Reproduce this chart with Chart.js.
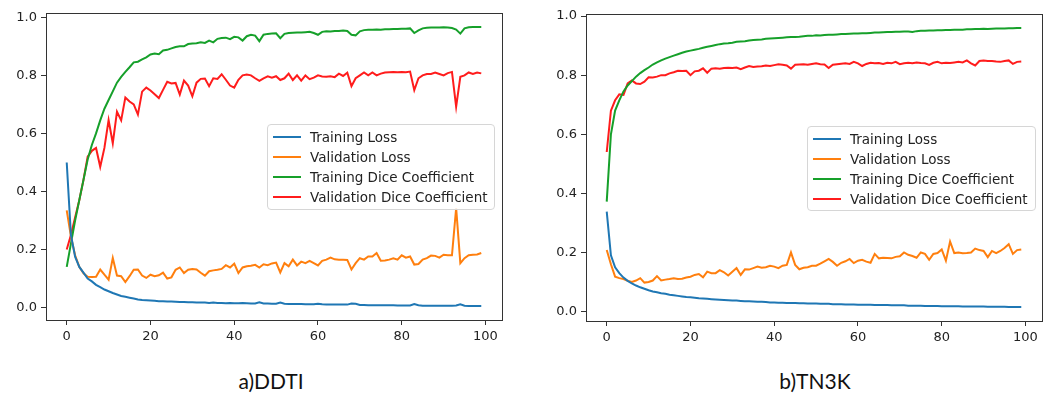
<!DOCTYPE html>
<html>
<head>
<meta charset="utf-8">
<script src="https://cdn.jsdelivr.net/npm/chart.js@4.4.1/dist/chart.umd.min.js"></script>
<style>
html,body{margin:0;padding:0;background:#fff;width:1051px;height:401px;overflow:hidden;}
body{position:relative;font-family:"DejaVu Sans",sans-serif;}
canvas{position:absolute;top:0;}
.legend{position:absolute;border:1px solid #d6d6d6;border-radius:4px;background:rgba(255,255,255,0.85);box-sizing:border-box;}
.row{position:absolute;left:0;height:20px;font-size:13.5px;color:#222;line-height:20px;white-space:nowrap;}
.swatch{position:absolute;left:5px;top:9px;width:28px;height:2px;}
.lbl{position:absolute;left:42px;top:0;}
.caption{position:absolute;top:368px;font-family:Lato,"Open Sans",sans-serif;font-size:21px;color:#111;white-space:nowrap;transform:translateX(-50%);}
</style>
</head>
<body>
<canvas id="c1" width="525" height="360" style="left:0px"></canvas>
<canvas id="c2" width="526" height="360" style="left:525px"></canvas>
<div id="lg1" class="legend" style="left:267px;top:124px;width:228px;height:86px;"></div>
<div id="lg2" class="legend" style="left:807px;top:126px;width:229px;height:85px;"></div>
<div class="caption" style="left:271px;">a)DDTI</div>
<div class="caption" style="left:815px;">b)TN3K</div>
<script>
// ---- data ----
const epochs = Array.from({length: 100}, (_, i) => i);
const xTickValues = [0, 20, 40, 60, 80, 100];
const yTickValues = [0, 0.2, 0.4, 0.6, 0.8, 1.0];
const seriesNames = ['Training Loss', 'Validation Loss', 'Training Dice Coefficient', 'Validation Dice Coefficient'];

// a) DDTI
const ddtiTrainLoss = [
0.50,0.25,0.175,0.14,0.12,0.10,0.09,0.078,0.07,0.062,
0.056,0.05,0.045,0.04,0.037,0.034,0.031,0.028,0.026,0.025,
0.024,0.023,0.022,0.022,0.021,0.021,0.020,0.019,0.019,0.018,
0.018,0.017,0.017,0.017,0.016,0.017,0.016,0.016,0.015,0.016,
0.015,0.015,0.016,0.015,0.014,0.014,0.018,0.014,0.014,0.013,
0.013,0.017,0.013,0.012,0.012,0.012,0.012,0.011,0.011,0.011,
0.013,0.011,0.010,0.010,0.010,0.010,0.010,0.010,0.014,0.013,
0.009,0.009,0.008,0.008,0.008,0.008,0.008,0.008,0.008,0.007,
0.007,0.007,0.007,0.012,0.008,0.006,0.006,0.006,0.006,0.006,
0.006,0.006,0.006,0.007,0.011,0.006,0.005,0.005,0.005,0.005];
const ddtiValLoss = [
0.335,0.245,0.18,0.14,0.118,0.106,0.105,0.106,0.131,0.113,
0.096,0.171,0.11,0.108,0.088,0.108,0.13,0.131,0.11,0.102,
0.113,0.108,0.111,0.12,0.10,0.104,0.13,0.138,0.119,0.13,
0.133,0.131,0.12,0.11,0.125,0.128,0.13,0.133,0.146,0.138,
0.151,0.119,0.138,0.142,0.144,0.147,0.138,0.149,0.146,0.152,
0.155,0.121,0.153,0.142,0.165,0.145,0.158,0.153,0.161,0.153,
0.145,0.161,0.165,0.172,0.166,0.165,0.165,0.164,0.131,0.153,
0.17,0.165,0.176,0.176,0.188,0.161,0.162,0.165,0.17,0.165,
0.18,0.172,0.176,0.148,0.15,0.165,0.17,0.179,0.178,0.172,
0.182,0.18,0.18,0.343,0.153,0.17,0.18,0.182,0.183,0.188];
const ddtiTrainDice = [
0.14,0.22,0.30,0.37,0.44,0.51,0.56,0.60,0.645,0.685,
0.715,0.745,0.775,0.795,0.812,0.828,0.845,0.847,0.855,0.862,
0.872,0.875,0.873,0.886,0.888,0.893,0.898,0.90,0.90,0.908,
0.91,0.911,0.914,0.912,0.92,0.914,0.926,0.929,0.93,0.925,
0.933,0.931,0.92,0.935,0.94,0.937,0.918,0.94,0.943,0.944,
0.945,0.928,0.943,0.946,0.947,0.948,0.948,0.949,0.95,0.946,
0.94,0.95,0.952,0.951,0.953,0.953,0.955,0.953,0.94,0.938,
0.952,0.956,0.957,0.957,0.958,0.957,0.959,0.959,0.96,0.96,
0.961,0.961,0.962,0.946,0.955,0.962,0.964,0.965,0.965,0.965,
0.966,0.965,0.963,0.958,0.944,0.962,0.966,0.967,0.967,0.967];
const ddtiValDice = [
0.20,0.25,0.31,0.37,0.44,0.52,0.54,0.55,0.485,0.55,
0.646,0.566,0.675,0.645,0.724,0.71,0.70,0.665,0.744,0.758,
0.748,0.735,0.722,0.75,0.778,0.772,0.774,0.734,0.782,0.765,
0.728,0.775,0.788,0.789,0.763,0.79,0.788,0.804,0.785,0.765,
0.758,0.785,0.80,0.803,0.80,0.79,0.781,0.79,0.797,0.792,
0.797,0.784,0.79,0.806,0.784,0.80,0.782,0.80,0.787,0.792,
0.80,0.796,0.795,0.797,0.794,0.806,0.798,0.809,0.763,0.79,
0.80,0.81,0.80,0.81,0.80,0.806,0.81,0.811,0.812,0.811,
0.812,0.811,0.813,0.749,0.79,0.80,0.805,0.805,0.81,0.805,
0.80,0.808,0.812,0.692,0.795,0.80,0.81,0.805,0.81,0.807];

// b) TN3K
const tn3kTrainLoss = [
0.338,0.19,0.15,0.13,0.115,0.104,0.095,0.088,0.082,0.077,
0.072,0.068,0.065,0.062,0.06,0.057,0.055,0.053,0.051,0.049,
0.048,0.047,0.045,0.044,0.043,0.042,0.041,0.04,0.039,0.038,
0.037,0.037,0.036,0.035,0.035,0.034,0.033,0.033,0.032,0.031,
0.031,0.030,0.030,0.029,0.029,0.029,0.028,0.028,0.027,0.027,
0.027,0.026,0.026,0.026,0.025,0.025,0.025,0.024,0.024,0.024,
0.023,0.023,0.023,0.023,0.022,0.022,0.022,0.022,0.021,0.021,
0.021,0.021,0.020,0.020,0.020,0.020,0.019,0.019,0.019,0.019,
0.018,0.018,0.018,0.018,0.018,0.017,0.017,0.017,0.017,0.017,
0.017,0.016,0.016,0.016,0.016,0.016,0.015,0.015,0.015,0.015];
const tn3kValLoss = [
0.208,0.16,0.118,0.113,0.11,0.104,0.10,0.105,0.113,0.098,
0.10,0.105,0.12,0.105,0.108,0.11,0.113,0.11,0.111,0.115,
0.118,0.124,0.127,0.116,0.135,0.13,0.13,0.14,0.133,0.122,
0.135,0.147,0.124,0.143,0.142,0.147,0.152,0.148,0.15,0.155,
0.152,0.147,0.155,0.158,0.2,0.158,0.143,0.148,0.15,0.155,
0.155,0.162,0.17,0.178,0.168,0.155,0.165,0.17,0.178,0.164,
0.172,0.175,0.169,0.165,0.195,0.18,0.182,0.181,0.18,0.185,
0.187,0.2,0.192,0.188,0.182,0.2,0.195,0.175,0.195,0.198,
0.21,0.172,0.237,0.198,0.2,0.197,0.198,0.2,0.213,0.208,
0.205,0.184,0.205,0.198,0.205,0.215,0.228,0.195,0.208,0.21];
const tn3kTrainDice = [
0.372,0.60,0.68,0.715,0.745,0.765,0.78,0.795,0.807,0.817,
0.826,0.836,0.843,0.85,0.856,0.861,0.866,0.871,0.876,0.88,
0.883,0.886,0.889,0.893,0.896,0.899,0.902,0.905,0.907,0.908,
0.91,0.913,0.914,0.915,0.917,0.919,0.92,0.921,0.923,0.924,
0.925,0.926,0.927,0.928,0.929,0.929,0.93,0.932,0.933,0.933,
0.935,0.934,0.936,0.937,0.937,0.938,0.939,0.939,0.94,0.941,
0.941,0.942,0.942,0.943,0.944,0.944,0.945,0.946,0.946,0.947,
0.947,0.948,0.948,0.946,0.949,0.95,0.95,0.951,0.951,0.952,
0.952,0.953,0.953,0.954,0.954,0.954,0.955,0.955,0.956,0.956,
0.957,0.956,0.957,0.958,0.958,0.958,0.959,0.959,0.96,0.96];
const tn3kValDice = [
0.54,0.68,0.715,0.735,0.733,0.772,0.782,0.772,0.77,0.778,
0.793,0.792,0.795,0.80,0.80,0.806,0.81,0.815,0.814,0.815,
0.80,0.813,0.815,0.823,0.808,0.822,0.823,0.822,0.824,0.825,
0.824,0.826,0.82,0.826,0.831,0.828,0.829,0.83,0.833,0.831,
0.834,0.837,0.835,0.833,0.822,0.835,0.836,0.837,0.835,0.838,
0.84,0.837,0.836,0.824,0.835,0.837,0.839,0.84,0.838,0.845,
0.84,0.831,0.838,0.842,0.84,0.841,0.838,0.842,0.84,0.845,
0.837,0.84,0.842,0.84,0.843,0.841,0.84,0.835,0.842,0.845,
0.84,0.842,0.841,0.843,0.845,0.843,0.85,0.84,0.833,0.848,
0.85,0.848,0.848,0.846,0.845,0.848,0.85,0.838,0.845,0.846];

const seriesColors = ['#1f77b4', '#ff7f0e', '#16a02a', '#ff1c1c'];

// ---- charts ----
function makeChart(canvasId, legendId, seriesList, cfg) {
  const tickFont = {family: 'DejaVu Sans', size: 13};
  const frameAxis = (pos, axis) => ({
    type: 'linear', position: pos, axis: axis,
    min: axis === 'x' ? cfg.xMin : cfg.yMin,
    max: axis === 'x' ? cfg.xMax : cfg.yMax,
    afterFit: s => { if (axis === 'x') s.height = 0; else s.width = 0; },
    grid: {display: false, drawTicks: false},
    border: {display: true, color: '#333', width: 1},
    ticks: {display: false}
  });
  const chart = new Chart(document.getElementById(canvasId), {
    type: 'line',
    data: {
      datasets: seriesList.map((vals, k) => ({
        label: seriesNames[k],
        data: vals.map((v, i) => ({x: epochs[i], y: v})),
        borderColor: seriesColors[k],
        backgroundColor: seriesColors[k],
        borderWidth: 2,
        pointRadius: 0,
        tension: 0,
        fill: false,
        xAxisID: 'x',
        yAxisID: 'y'
      }))
    },
    options: {
      responsive: false,
      animation: false,
      events: [],
      layout: {padding: {left: 0, right: cfg.padRight, top: cfg.padTop, bottom: 0}},
      plugins: {legend: {display: false}, tooltip: {enabled: false}},
      scales: {
        x: {
          type: 'linear', position: 'bottom',
          min: cfg.xMin, max: cfg.xMax,
          afterBuildTicks: s => { s.ticks = xTickValues.map(v => ({value: v})); },
          afterFit: s => { s.height = cfg.xHeight; },
          grid: {display: true, drawOnChartArea: false, drawTicks: true, tickLength: 5, color: '#333'},
          border: {display: true, color: '#333', width: 1},
          ticks: {font: tickFont, color: '#222', padding: 4, maxRotation: 0, autoSkip: false,
                  callback: v => String(v)}
        },
        y: {
          type: 'linear', position: 'left',
          min: cfg.yMin, max: cfg.yMax,
          afterBuildTicks: s => { s.ticks = yTickValues.map(v => ({value: v})); },
          afterFit: s => { s.width = cfg.yWidth; },
          grid: {display: true, drawOnChartArea: false, drawTicks: true, tickLength: 5, color: '#333'},
          border: {display: true, color: '#333', width: 1},
          ticks: {font: tickFont, color: '#222', padding: 4, autoSkip: false,
                  callback: v => Number(v).toFixed(1)}
        },
        xTop: frameAxis('top', 'x'),
        yRight: frameAxis('right', 'y')
      }
    }
  });

  const lg = document.getElementById(legendId);
  chart.data.datasets.forEach((ds, k) => {
    const row = document.createElement('div');
    row.className = 'row';
    row.style.top = (2 + k * 20) + 'px';
    row.style.width = '100%';
    const sw = document.createElement('div');
    sw.className = 'swatch';
    sw.style.background = ds.borderColor;
    const tx = document.createElement('div');
    tx.className = 'lbl';
    tx.textContent = ds.label;
    row.appendChild(sw);
    row.appendChild(tx);
    lg.appendChild(row);
  });
  return chart;
}

makeChart('c1', 'lg1', [ddtiTrainLoss, ddtiValLoss, ddtiTrainDice, ddtiValDice],
  {padRight: 23, padTop: 13, yWidth: 46, xHeight: 40, xMin: -4.95, xMax: 103.95, yMin: -0.043, yMax: 1.015});
makeChart('c2', 'lg2', [tn3kTrainLoss, tn3kValLoss, tn3kTrainDice, tn3kValDice],
  {padRight: 9, padTop: 14, yWidth: 61, xHeight: 39, xMin: -4.95, xMax: 103.95, yMin: -0.032, yMax: 1.007});
</script>
</body>
</html>
